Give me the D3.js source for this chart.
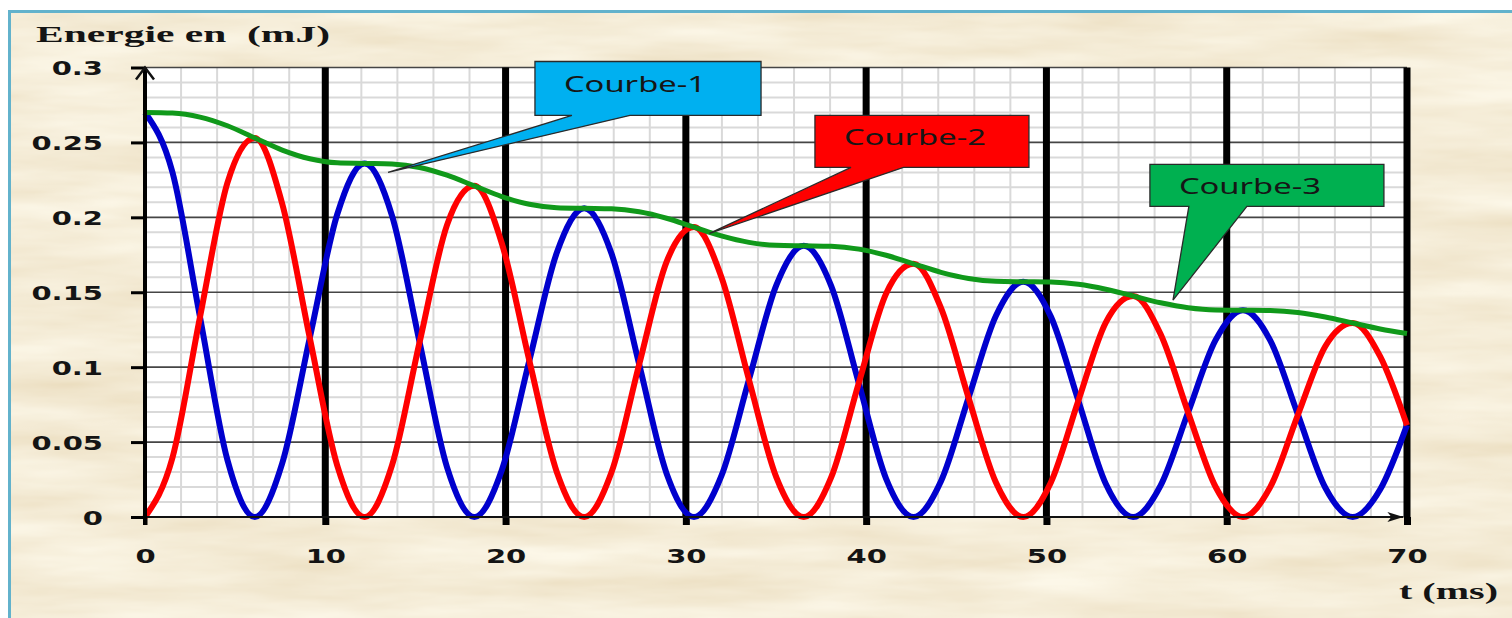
<!DOCTYPE html>
<html>
<head>
<meta charset="utf-8">
<script src="https://cdn.jsdelivr.net/npm/d3@7"></script>
<style>
  html, body { margin: 0; padding: 0; background: #fff; }
  svg { display: block; }
</style>
</head>
<body>
<svg id="chart"></svg>
<script>
// time (ms) and energies (mJ)
const timeMs = [0, 1.52, 3.05, 4.57, 6.09, 7.61, 9.14, 10.66, 12.18, 13.7, 15.23, 16.75,
  18.27, 19.79, 21.32, 22.84, 24.36, 25.88, 27.41, 28.93, 30.45, 31.97, 33.5, 35.02,
  36.54, 38.06, 39.59, 41.11, 42.63, 44.15, 45.68, 47.2, 48.72, 50.24, 51.77, 53.29,
  54.81, 56.33, 57.86, 59.38, 60.9, 62.42, 63.95, 65.47, 66.99, 68.51, 70];

const courbe1 = [0.27, 0.2302, 0.1335, 0.0381, 0, 0.0358, 0.1196, 0.2019, 0.236, 0.2012,
  0.1167, 0.0333, 0, 0.0312, 0.1044, 0.1763, 0.206, 0.1757, 0.1019, 0.0291, 0, 0.0274,
  0.0917, 0.1548, 0.181, 0.1543, 0.0894, 0.0255, 0, 0.0238, 0.0796, 0.1343, 0.157, 0.1339,
  0.0777, 0.0222, 0, 0.0209, 0.0699, 0.118, 0.138, 0.1177, 0.0683, 0.0195, 0, 0.0183, 0.0613];

const courbe2 = [0, 0.0394, 0.1334, 0.223, 0.253, 0.2091, 0.1195, 0.0345, 0, 0.0344,
  0.1166, 0.1948, 0.221, 0.1827, 0.1043, 0.0301, 0, 0.03, 0.1018, 0.1703, 0.1935, 0.1602,
  0.0916, 0.0265, 0, 0.0264, 0.0894, 0.1492, 0.169, 0.1395, 0.0796, 0.023, 0, 0.0229,
  0.0776, 0.1298, 0.1475, 0.1221, 0.0698, 0.0202, 0, 0.0201, 0.0682, 0.114, 0.1295, 0.1072, 0.0612];

const courbe3 = [0.27, 0.2696, 0.2669, 0.2611, 0.253, 0.2449, 0.2391, 0.2364, 0.236, 0.2356,
  0.2333, 0.2281, 0.221, 0.2139, 0.2087, 0.2064, 0.206, 0.2057, 0.2037, 0.1994, 0.1935, 0.1876,
  0.1833, 0.1813, 0.181, 0.1807, 0.1788, 0.1747, 0.169, 0.1633, 0.1592, 0.1573, 0.157, 0.1568,
  0.1553, 0.152, 0.1475, 0.143, 0.1397, 0.1382, 0.138, 0.1378, 0.1365, 0.1335, 0.1295, 0.1255, 0.1225];

const xTicks = [0, 10, 20, 30, 40, 50, 60, 70];
const xTickLabels = ["0", "10", "20", "30", "40", "50", "60", "70"];
const yTicks = [0, 0.05, 0.1, 0.15, 0.2, 0.25, 0.3];
const yTickLabels = ["0", "0.05", "0.1", "0.15", "0.2", "0.25", "0.3"];
const calloutLabels = ["Courbe-1", "Courbe-2", "Courbe-3"];

const width = 1512, height = 618;

const svg = d3.select("#chart")
    .attr("width", width)
    .attr("height", height)
    .attr("viewBox", [0, 0, width, height]);

// parchment texture
const defs = svg.append("defs");
const paper = defs.append("filter").attr("id", "paper")
    .attr("x", 0).attr("y", 0).attr("width", "100%").attr("height", "100%");
paper.append("feTurbulence")
    .attr("type", "fractalNoise")
    .attr("baseFrequency", "0.005 0.035")
    .attr("numOctaves", 4)
    .attr("seed", 7);
paper.append("feColorMatrix")
    .attr("type", "matrix")
    .attr("values", "0.18 0 0 0 0.82  0.26 0 0 0 0.71  0.36 0 0 0 0.50  0 0 0 0 1");

svg.append("rect")
    .attr("x", 9).attr("y", 11)
    .attr("width", width - 9).attr("height", height - 11)
    .attr("filter", "url(#paper)");
svg.append("path")
    .attr("d", `M9.5,${height}V11.5H${width}`)
    .attr("fill", "none")
    .attr("stroke", "#62b2cc")
    .attr("stroke-width", 3);

const x = d3.scaleLinear().domain([0, 70]).range([145, 1407]);
const y = d3.scaleLinear().domain([0, 0.3]).range([517, 67.5]);

// plot background + grid
svg.append("rect")
    .attr("x", x(0)).attr("y", y(0.3))
    .attr("width", x(70) - x(0)).attr("height", y(0) - y(0.3))
    .attr("fill", "#fff");

const grid = svg.append("g");
grid.selectAll(".vminor")
  .data(d3.range(2, 70, 2).filter(d => d % 10 !== 0))
  .join("line")
    .attr("x1", d => x(d)).attr("x2", d => x(d))
    .attr("y1", y(0)).attr("y2", y(0.3))
    .attr("stroke", "#d9d9d9").attr("stroke-width", 2);
grid.selectAll(".hminor")
  .data(d3.range(1, 30).filter(d => d % 5 !== 0).map(d => d / 100))
  .join("line")
    .attr("x1", x(0)).attr("x2", x(70))
    .attr("y1", d => y(d)).attr("y2", d => y(d))
    .attr("stroke", "#d9d9d9").attr("stroke-width", 2);
grid.selectAll(".hmajor")
  .data(yTicks.slice(1))
  .join("line")
    .attr("x1", x(0)).attr("x2", x(70))
    .attr("y1", d => y(d)).attr("y2", d => y(d))
    .attr("stroke", "#454545").attr("stroke-width", 1.6);
grid.selectAll(".vmajor")
  .data(xTicks.slice(1))
  .join("line")
    .attr("x1", d => x(d)).attr("x2", d => x(d))
    .attr("y1", y(0)).attr("y2", y(0.3))
    .attr("stroke", "#000").attr("stroke-width", 7);

// axes
const xAxis = svg.append("g")
    .attr("transform", `translate(0,${y(0)})`)
    .call(d3.axisBottom(x).tickValues(xTicks).tickFormat((d, i) => xTickLabels[i]).tickSize(8));
xAxis.select(".domain").remove();
xAxis.selectAll(".tick line")
    .attr("stroke", "#000")
    .attr("stroke-width", d => d === 0 ? 4 : 7);
xAxis.selectAll(".tick text")
    .attr("y", 46).attr("dy", null)
    .attr("transform", "scale(1.45,1)");

const yAxis = svg.append("g")
    .attr("transform", `translate(${x(0)},0)`)
    .call(d3.axisLeft(y).tickValues(yTicks).tickFormat((d, i) => yTickLabels[i]).tickSize(14));
yAxis.select(".domain").remove();
yAxis.selectAll(".tick line").attr("stroke", "#000").attr("stroke-width", 3);
yAxis.selectAll(".tick text")
    .attr("x", -29).attr("dy", "0.36em")
    .attr("transform", "scale(1.45,1)");

svg.selectAll(".tick text")
    .attr("font-family", "'DejaVu Sans', Verdana, sans-serif")
    .attr("font-weight", "bold")
    .attr("font-size", 20)
    .attr("fill", "#141414");

// curves
const line = d3.line()
    .curve(d3.curveMonotoneX)
    .x((d, i) => x(timeMs[i]))
    .y(d => y(d));

const series = [
  {values: courbe1, color: "#0000cd", width: 6},
  {values: courbe2, color: "#ff0000", width: 6},
  {values: courbe3, color: "#10991a", width: 5}
];
svg.append("g")
    .attr("fill", "none")
    .attr("stroke-linejoin", "round")
  .selectAll("path")
  .data(series)
  .join("path")
    .attr("stroke", d => d.color)
    .attr("stroke-width", d => d.width)
    .attr("d", d => line(d.values));

// axis lines with arrows
svg.append("line")
    .attr("x1", x(0)).attr("x2", x(69.8))
    .attr("y1", y(0)).attr("y2", y(0))
    .attr("stroke", "#111").attr("stroke-width", 2);
svg.append("path")
    .attr("d", `M${x(69.8) - 16},${y(0) - 5}L${x(69.8)},${y(0)}L${x(69.8) - 16},${y(0) + 5}L${x(69.8) - 12},${y(0)}Z`)
    .attr("fill", "#111");
svg.append("line")
    .attr("x1", x(0)).attr("x2", x(0))
    .attr("y1", y(0) + 8).attr("y2", y(0.3))
    .attr("stroke", "#000").attr("stroke-width", 4);
svg.append("path")
    .attr("d", `M${x(0) - 9},${y(0.3) + 12}L${x(0)},${y(0.3)}L${x(0) + 9},${y(0.3) + 12}`)
    .attr("fill", "none")
    .attr("stroke", "#111").attr("stroke-width", 2.5);

// axis titles
svg.append("text")
    .attr("x", 36).attr("y", 42)
    .attr("textLength", 294).attr("lengthAdjust", "spacingAndGlyphs")
    .style("white-space", "pre")
    .attr("font-family", "'Liberation Serif', 'Times New Roman', serif")
    .attr("font-weight", "bold").attr("font-size", 23)
    .attr("fill", "#141414")
    .text("Energie en  (mJ)");
svg.append("text")
    .attr("x", 1399).attr("y", 599)
    .attr("textLength", 99).attr("lengthAdjust", "spacingAndGlyphs")
    .attr("font-family", "'Liberation Serif', 'Times New Roman', serif")
    .attr("font-weight", "bold").attr("font-size", 23)
    .attr("fill", "#141414")
    .text("t (ms)");

// callouts (box corners, pointer base and tip in data units)
const callouts = [
  {label: calloutLabels[0], fill: "#00b0f0", t0: 21.63, t1: 34.17, e0: 0.304, e1: 0.268, b0: 23.68, b1: 26.9, tipT: 13.48, tipE: 0.23},
  {label: calloutLabels[1], fill: "#ff0000", t0: 37.16, t1: 49.03, e0: 0.268, e1: 0.2333, b0: 39.16, b1: 42.07, tipT: 31.31, tipE: 0.1893},
  {label: calloutLabels[2], fill: "#00b050", t0: 55.74, t1: 68.72, e0: 0.2353, e1: 0.2073, b0: 57.9, b1: 61.12, tipT: 57.02, tipE: 0.1447}
];
const co = svg.append("g").selectAll("g").data(callouts).join("g");
co.append("path")
    .attr("d", d => `M${x(d.t0)},${y(d.e0)}H${x(d.t1)}V${y(d.e1)}H${x(d.b1)}L${x(d.tipT)},${y(d.tipE)}L${x(d.b0)},${y(d.e1)}H${x(d.t0)}Z`)
    .attr("fill", d => d.fill)
    .attr("stroke", "#2a2a2a").attr("stroke-width", 1.3)
    .attr("stroke-linejoin", "miter");
co.append("text")
    .attr("x", d => x(d.t0) + 29).attr("y", d => y(d.e0) + 30)
    .attr("textLength", 142).attr("lengthAdjust", "spacingAndGlyphs")
    .attr("font-family", "'Noto Sans', 'Open Sans', sans-serif")
    .attr("font-size", 21)
    .attr("fill", "#161616")
    .text(d => d.label);
</script>
</body>
</html>
